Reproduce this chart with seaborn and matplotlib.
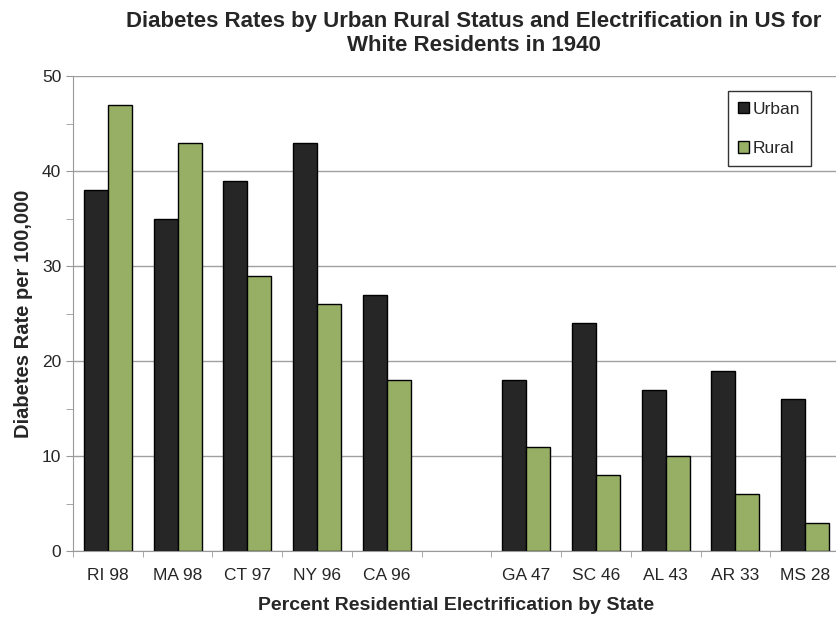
import matplotlib
matplotlib.use("Agg")
import matplotlib.pyplot as plt
import numpy as np
import pandas as pd
import seaborn as sns

# Data (one empty slot separates the two groups)
states = ["RI 98", "MA 98", "CT 97", "NY 96", "CA 96", " ",
          "GA 47", "SC 46", "AL 43", "AR 33", "MS 28"]
urban = [38, 35, 39, 43, 27, np.nan, 18, 24, 17, 19, 16]
rural = [47, 43, 29, 26, 18, np.nan, 11, 8, 10, 6, 3]

df = pd.DataFrame({
    "state": states * 2,
    "rate": urban + rural,
    "area": ["Urban"] * len(states) + ["Rural"] * len(states),
})

sns.set_style("white")
plt.rcParams["font.family"] = ["Liberation Sans", "DejaVu Sans"]

fig = plt.figure(figsize=(8.37, 6.21), dpi=100)
ax = fig.add_axes([0.0872, 0.1127, 0.9164, 0.7649])

sns.barplot(
    data=df.dropna(), x="state", y="rate", hue="area",
    order=states, hue_order=["Urban", "Rural"],
    palette={"Urban": "#262626", "Rural": "#9BBB59"},
    width=0.69, edgecolor="black", linewidth=1, ax=ax,
)

ax.set_xlim(-0.5, len(states) - 0.5)
ax.set_ylim(0, 50)
ax.set_yticks(range(0, 51, 10))
ax.set_yticks(range(5, 50, 10), minor=True)
ax.set_xticks(np.arange(-0.5, len(states), 1.0), minor=True)
ax.tick_params(axis="x", which="major", length=0, labelsize=12.5, pad=12)
ax.tick_params(axis="x", which="minor", length=4, color="#999999", direction="out", bottom=True)
ax.tick_params(axis="y", which="both", length=5, color="#999999", direction="out", left=True, labelsize=12.5)
ax.yaxis.grid(True, color="#a0a0a0", linewidth=1)
ax.set_axisbelow(True)

for s in ["top", "right"]:
    ax.spines[s].set_visible(False)
for s in ["left", "bottom"]:
    ax.spines[s].set_color("#999999")

ax.set_xlabel("Percent Residential Electrification by State", fontsize=14, fontweight="bold", labelpad=10)
ax.set_ylabel("Diabetes Rate per 100,000", fontsize=14.5, fontweight="bold", labelpad=6)
fig.suptitle("Diabetes Rates by Urban Rural Status and Electrification in US for\nWhite Residents in 1940",
             x=0.566, y=0.982, fontsize=16, fontweight="bold", linespacing=1.2)

leg = ax.legend(loc="upper right", bbox_to_anchor=(0.962, 0.968), frameon=True,
                fancybox=False, edgecolor="black", fontsize=12.5, labelspacing=1.4,
                handlelength=0.65, handleheight=0.65, handletextpad=0.2,
                borderpad=0.6, borderaxespad=0, title=None)
leg.get_frame().set_linewidth(1)

fig.savefig("out.png", dpi=100)
